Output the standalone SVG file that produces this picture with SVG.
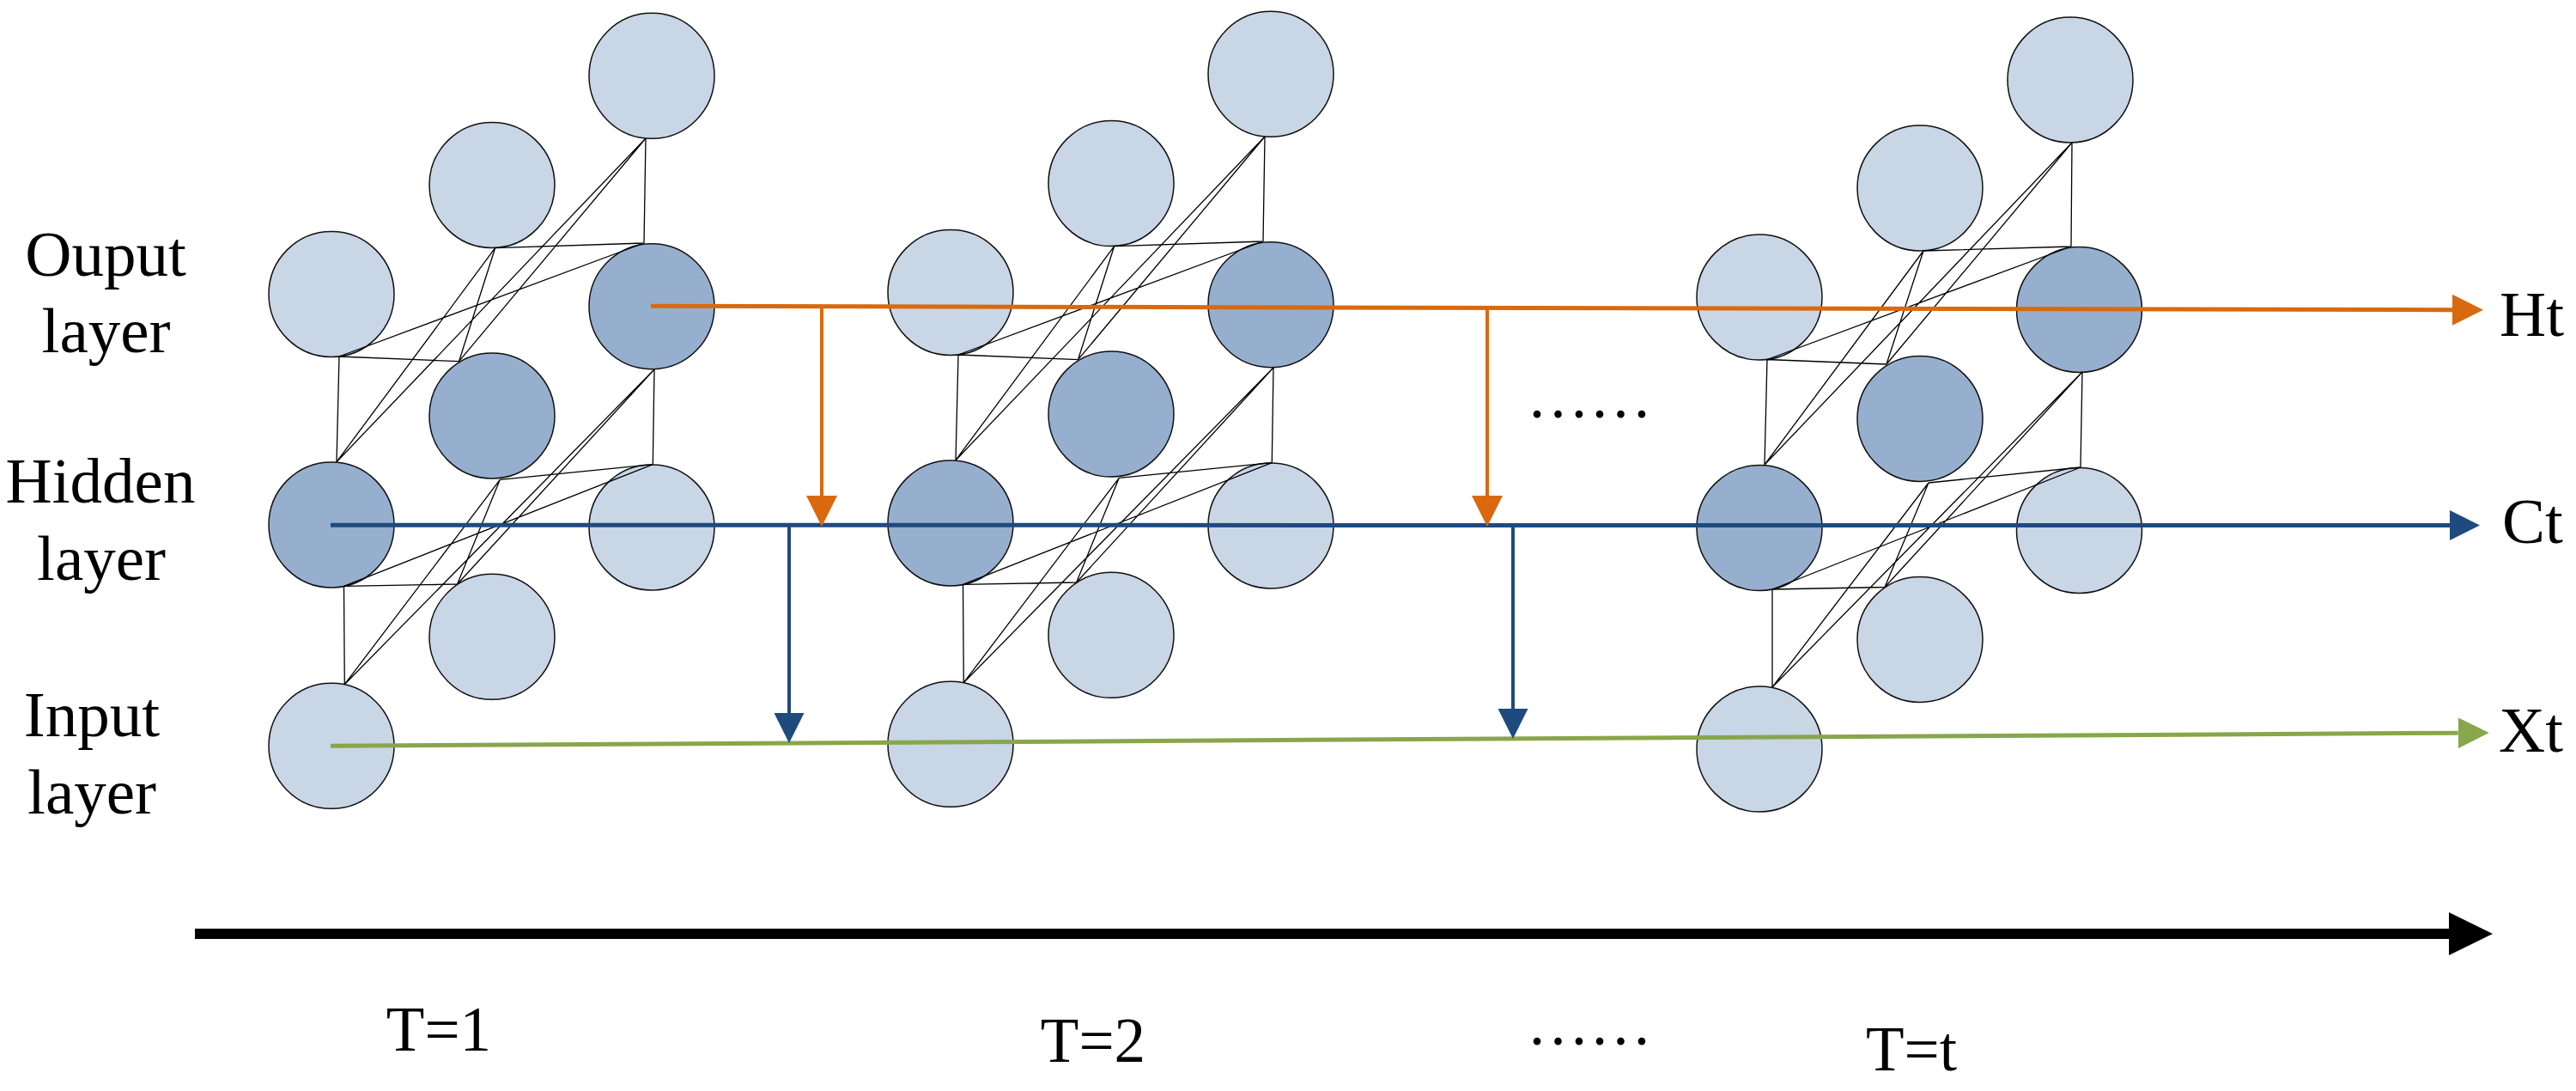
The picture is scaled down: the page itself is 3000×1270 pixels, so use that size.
<svg xmlns="http://www.w3.org/2000/svg" width="3000" height="1270" viewBox="0 0 3000 1270">
<style>
.lt{fill:#C8D6E6;stroke:#111;stroke-width:1.5}
.dk{fill:#96AFCE;stroke:#111;stroke-width:1.5}
.ln{fill:none;stroke:#000;stroke-width:1.3}
.lbl{font-size:75px;fill:#000}
.tl{font-size:73px;fill:#000;text-anchor:middle}
.or{stroke:#D9690E;fill:none}
.bl{stroke:#1F4A7E;fill:none}
.gr{stroke:#88A64A;fill:none}
</style>
<defs>
<marker id="mo" markerUnits="userSpaceOnUse" markerWidth="36" markerHeight="36" viewBox="0 0 10 10" refX="0" refY="5" orient="auto"><path d="M0,0 L10,5 L0,10 z" fill="#D9690E"/></marker>
<marker id="mb" markerUnits="userSpaceOnUse" markerWidth="35" markerHeight="35" viewBox="0 0 10 10" refX="0" refY="5" orient="auto"><path d="M0,0 L10,5 L0,10 z" fill="#1F4A7E"/></marker>
<marker id="mg" markerUnits="userSpaceOnUse" markerWidth="36" markerHeight="36" viewBox="0 0 10 10" refX="0" refY="5" orient="auto"><path d="M0,0 L10,5 L0,10 z" fill="#88A64A"/></marker>
</defs>
<rect width="3000" height="1270" fill="#fff"/>

<!-- Block T=1 -->
<g id="b1-c1"><circle class="lt" cx="759" cy="88.3" r="73"/></g>
<g id="b1-b1"><circle class="lt" cx="573" cy="215.5" r="73"/></g>
<g id="b1-a1"><circle class="lt" cx="386" cy="342.5" r="73"/></g>
<g id="b1-c2"><circle class="dk" cx="759" cy="356.7" r="73"/></g>
<g id="b1-b2"><circle class="dk" cx="573" cy="484" r="73"/></g>
<g id="b1-a2"><circle class="dk" cx="386" cy="611" r="73"/></g>
<g id="b1-c3"><circle class="lt" cx="759" cy="614" r="73"/></g>
<g id="b1-b3"><circle class="lt" cx="573" cy="741.3" r="73"/></g>
<g id="b1-a3"><circle class="lt" cx="386" cy="868.3" r="73"/></g>

<!-- Block T=2 -->
<g id="b2-c1"><circle class="lt" cx="1480" cy="86.3" r="73"/></g>
<g id="b2-b1"><circle class="lt" cx="1294" cy="213.5" r="73"/></g>
<g id="b2-a1"><circle class="lt" cx="1107" cy="340.5" r="73"/></g>
<g id="b2-c2"><circle class="dk" cx="1480" cy="354.7" r="73"/></g>
<g id="b2-b2"><circle class="dk" cx="1294" cy="482" r="73"/></g>
<g id="b2-a2"><circle class="dk" cx="1107" cy="609" r="73"/></g>
<g id="b2-c3"><circle class="lt" cx="1480" cy="612" r="73"/></g>
<g id="b2-b3"><circle class="lt" cx="1294" cy="739.3" r="73"/></g>
<g id="b2-a3"><circle class="lt" cx="1107" cy="866.3" r="73"/></g>

<!-- Block T=t -->
<g id="b3-c1"><circle class="lt" cx="2411" cy="93" r="73"/></g>
<g id="b3-b1"><circle class="lt" cx="2236" cy="219" r="73"/></g>
<g id="b3-a1"><circle class="lt" cx="2049" cy="346" r="73"/></g>
<g id="b3-c2"><circle class="dk" cx="2421.5" cy="360.5" r="73"/></g>
<g id="b3-b2"><circle class="dk" cx="2236" cy="487.5" r="73"/></g>
<g id="b3-a2"><circle class="dk" cx="2049" cy="614.5" r="73"/></g>
<g id="b3-c3"><circle class="lt" cx="2421.5" cy="617.5" r="73"/></g>
<g id="b3-b3"><circle class="lt" cx="2236" cy="744.5" r="73"/></g>
<g id="b3-a3"><circle class="lt" cx="2049" cy="872" r="73"/></g>

<g id="connectors">
<path class="ln" d="M395,415 L392,537.7 M395,415 L534.5,420.7 M395,415 L750,283
M576.6,288.7 L392,537.7 M576.6,288.7 L534.5,420.7 M576.6,288.7 L750,283
M752,161 L392,537.7 M752,161 L534.5,420.7 M752,161 L750,283
M400.5,682.3 L401.3,796.7 M400.5,682.3 L532.6,680 M400.5,682.3 L760.3,540.7
M582.3,558.3 L401.3,796.7 M582.3,558.3 L532.6,680 M582.3,558.3 L760.3,540.7
M762,430 L401.3,796.7 M762,430 L532.6,680 M762,430 L760.3,540.7"/>
<path class="ln" d="M1116,413 L1113,535.7 M1116,413 L1255.5,418.7 M1116,413 L1471,281
M1297.6,286.7 L1113,535.7 M1297.6,286.7 L1255.5,418.7 M1297.6,286.7 L1471,281
M1473,159 L1113,535.7 M1473,159 L1255.5,418.7 M1473,159 L1471,281
M1121.5,680.3 L1122.3,794.7 M1121.5,680.3 L1253.6,678 M1121.5,680.3 L1481.3,538.7
M1303.3,556.3 L1122.3,794.7 M1303.3,556.3 L1253.6,678 M1303.3,556.3 L1481.3,538.7
M1483,428 L1122.3,794.7 M1483,428 L1253.6,678 M1483,428 L1481.3,538.7"/>
<path class="ln" d="M2058,418.5 L2055,541 M2058,418.5 L2197,424 M2058,418.5 L2412,287
M2240,292 L2055,541 M2240,292 L2197,424 M2240,292 L2412,287
M2413,166 L2055,541 M2413,166 L2197,424 M2413,166 L2412,287
M2064,686 L2064,800 M2064,686 L2195,683.5 M2064,686 L2423,544
M2246,562 L2064,800 M2246,562 L2195,683.5 M2246,562 L2423,544
M2425,433 L2064,800 M2425,433 L2195,683.5 M2425,433 L2423,544"/>

<!-- flows -->
<line class="gr" x1="385" y1="868.3" x2="2862.7" y2="853.2" stroke-width="5" marker-end="url(#mg)"/>
<line class="bl" x1="385" y1="611.3" x2="2853" y2="611.5" stroke-width="5" marker-end="url(#mb)"/>
<line class="or" x1="758" y1="356.3" x2="2856" y2="360.7" stroke-width="5" marker-end="url(#mo)"/>
<line class="or" x1="957" y1="357.5" x2="957" y2="577" stroke-width="4" marker-end="url(#mo)"/>
<line class="or" x1="1732" y1="358.5" x2="1732" y2="577" stroke-width="4" marker-end="url(#mo)"/>
<line class="bl" x1="919" y1="611.5" x2="919" y2="830" stroke-width="4" marker-end="url(#mb)"/>
<line class="bl" x1="1762" y1="611.5" x2="1762" y2="825" stroke-width="4" marker-end="url(#mb)"/>

<!-- time axis -->
<line x1="227" y1="1087" x2="2853" y2="1087" stroke="#000" stroke-width="12"/>
<polygon points="2852,1062 2903,1087 2852,1112" fill="#000"/>
</g>

<g font-family="Liberation Serif, Tinos, DejaVu Serif, serif">
<g id="label-output"><text class="lbl" x="123" y="321" text-anchor="middle">Ouput</text><text class="lbl" x="123.5" y="409.5" text-anchor="middle">layer</text></g>
<g id="label-hidden"><text class="lbl" x="117" y="585" text-anchor="middle">Hidden</text><text class="lbl" x="118" y="675" text-anchor="middle">layer</text></g>
<g id="label-input"><text class="lbl" x="107" y="857" text-anchor="middle">Input</text><text class="lbl" x="107" y="947" text-anchor="middle">layer</text></g>
<g id="label-ht"><text class="lbl" x="2911" y="390.5">Ht</text></g>
<g id="label-ct"><text class="lbl" x="2914" y="632">Ct</text></g>
<g id="label-xt"><text class="lbl" x="2910" y="874.7">Xt</text></g>
<g id="label-dots-mid"><text class="tl" x="1851" y="486">……</text></g>
<g id="label-t1"><text class="tl" x="511" y="1223">T=1</text></g>
<g id="label-t2"><text class="tl" x="1273" y="1236">T=2</text></g>
<g id="label-dots"><text class="tl" x="1851" y="1216">……</text></g>
<g id="label-tt"><text class="tl" x="2226" y="1246">T=t</text></g>
</g>
</svg>
